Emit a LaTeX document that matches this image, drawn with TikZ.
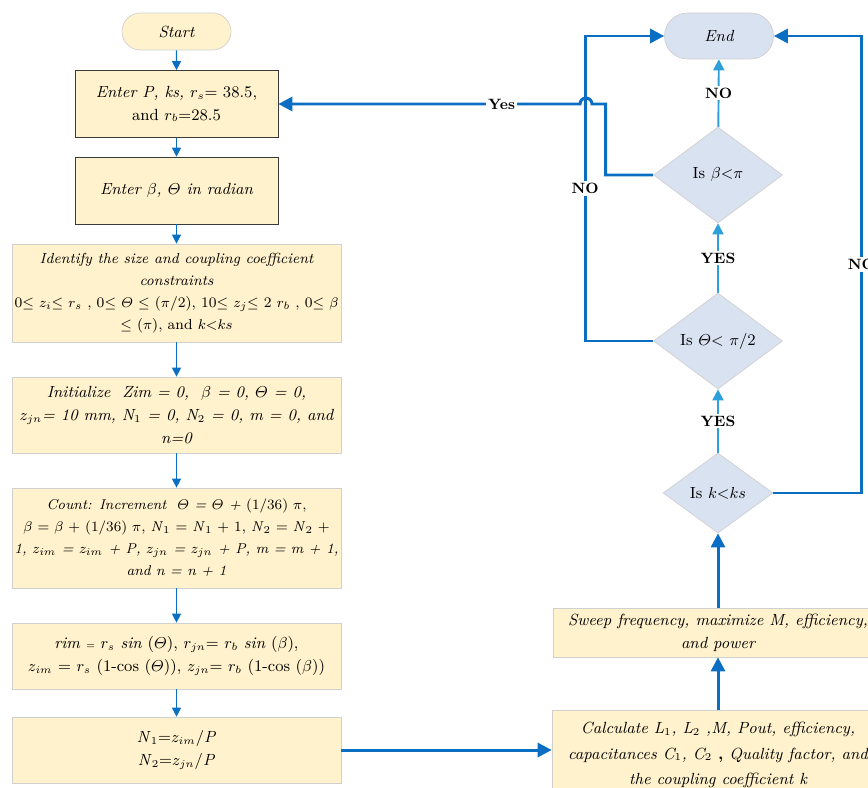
\documentclass[tikz,border=0pt]{standalone}
\usepackage{amsmath}
\usetikzlibrary{shapes.geometric,shapes.misc,arrows.meta}

\definecolor{boxfill}{HTML}{FFF2CC}
\definecolor{boxline}{HTML}{D0D0D0}
\definecolor{darkline}{HTML}{3A3A3A}
\definecolor{decfill}{HTML}{D9E2F1}
\definecolor{flowblue}{HTML}{0A6FC2}
\definecolor{skyblue}{HTML}{2E9FD8}

\tikzset{
  txt/.style={font=\fontsize{9.2}{13}\selectfont, align=center, inner sep=1pt},
  small/.style={font=\fontsize{8.3}{12.5}\selectfont},
  box/.style={txt, rectangle, draw=boxline, fill=boxfill, minimum width=6.58cm},
  inbox/.style={box, draw=darkline, minimum width=4.06cm, minimum height=1.34cm},
  term/.style={txt, rounded rectangle, draw=boxline, minimum width=2.25cm},
  decision/.style={txt, diamond, draw=boxline, fill=decfill, inner sep=0pt, shape aspect=1.34},
  flow/.style={draw=flowblue, line width=0.75pt, -{Triangle[length=0.18cm,width=0.18cm]}},
  bigflow/.style={draw=flowblue, line width=1.7pt, -{Triangle[length=0.28cm,width=0.28cm]}},
  lightflow/.style={draw=skyblue, line width=1.1pt, -{Triangle[length=0.22cm,width=0.22cm]}},
  lbl/.style={font=\fontsize{8.5}{10}\selectfont\bfseries, fill=white, inner sep=1pt}
}

\begin{document}
\begin{tikzpicture}[x=0.02cm, y=-0.02cm]
\useasboundingbox (0,0) rectangle (868,787);

% left column
\node (start) [term, fill=boxfill, minimum height=0.74cm] at (176.5,31.5) {\itshape Start};
\node (enterP) [inbox] at (176.5,104) {\textit{Enter P, ks, }$r_s$= 38.5,\\ and $r_b$=28.5};
\node (enterB) [inbox] at (176.5,190.5) {\itshape Enter $\beta$, $\varTheta$ in radian};
\node (ident) [box, small, minimum height=1.96cm] at (176.5,293)
  {\itshape Identify the size and coupling coefficient\\ \itshape constraints\\
   0$\le$ $z_i$$\le$ $r_s$ , 0$\le$ $\varTheta$ $\le$ ($\pi$/2), 10$\le$ $z_j$$\le$ 2 $r_b$ , 0$\le$ $\beta$\\
   $\le$ ($\pi$), and $k{<}ks$};
\node (init) [box, minimum height=1.52cm] at (176.5,415)
  {\itshape Initialize\ \ Zim = 0,\ \ $\beta$ = 0, $\varTheta$ = 0,\\
   \itshape $z_{jn}$= 10 mm, N$_1$ = 0, N$_2$ = 0, m = 0, and\\ \itshape n=0};
\node (count) [box, small, font=\fontsize{8.1}{12.5}\selectfont, minimum height=2cm] at (176.5,538)
  {\itshape Count: Increment\ \ $\varTheta$ = $\varTheta$ + \upshape(1/36) $\pi$,\\
   $\beta$ = $\beta$ + (1/36) $\pi$, \textit{N}$_1$ = \textit{N}$_1$ + 1, \textit{N}$_2$ = \textit{N}$_2$ +\\
   \itshape 1, $z_{im}$ = $z_{im}$ + P, $z_{jn}$ = $z_{jn}$ + P, m = m + 1,\\ \itshape and n = n + 1};
\node (geom) [box, minimum height=1.32cm] at (176.5,656)
  {\textit{rim} {\tiny =} $r_s$ \textit{sin} ($\varTheta$), $r_{jn}$= $r_b$ \textit{sin} ($\beta$),\\
   $z_{im}$ = $r_s$ (1-cos ($\varTheta$)), $z_{jn}$= $r_b$ (1-cos ($\beta$))};
\node (turns) [box, minimum height=1.32cm] at (176.5,750)
  {\textit{N}$_1$=$z_{im}$/\textit{P}\\ \textit{N}$_2$=$z_{jn}$/\textit{P}};

% right column
\node (calc) [box, minimum width=6.64cm, minimum height=1.8cm, font=\fontsize{9.2}{14.5}\selectfont] at (718,755)
  {\itshape Calculate L$_1$, L$_2$ ,M, Pout, efficiency,\\
   \itshape capacitances C$_1$, C$_2$ {\upshape\bfseries ,} Quality factor, and\\
   \itshape the coupling coefficient k};
\node (sweep) [box, minimum width=6.6cm, minimum height=0.98cm] at (718,632.5)
  {\itshape Sweep frequency, maximize M, efficiency,\\ \itshape and power};
\node (kks) [decision, minimum width=2.2cm, minimum height=1.6cm] at (718,493) {Is $k{<}ks$};
\node (theta) [decision, minimum width=2.58cm, minimum height=1.92cm] at (718,341) {Is $\varTheta$$<$ $\pi$/2};
\node (beta) [decision, minimum width=2.58cm, minimum height=1.92cm] at (718,175) {Is $\beta{<}\pi$};
\node (end) [term, fill=decfill, minimum height=0.92cm] at (719,36) {\itshape End};

% connectors
\draw[flow] (start) -- (enterP);
\draw[flow] (enterP) -- (enterB);
\draw[flow] (enterB) -- (ident);
\draw[flow] (ident) -- (init);
\draw[flow] (init) -- (count);
\draw[flow] (count) -- (geom);
\draw[flow] (geom) -- (turns);
\draw[bigflow] (turns.east) -- (turns.east -| calc.west);
\draw[bigflow] (calc) -- (sweep);
\draw[bigflow] (sweep) -- (kks);
\draw[lightflow] (kks) -- node[lbl] {YES} (theta);
\draw[lightflow] (theta) -- node[lbl] {YES} (beta);
\draw[lightflow] (beta) -- node[lbl] {NO} (end);
\draw[bigflow] (kks.east) -- ++(88,0) |- node[lbl, pos=0.25] {NO} (end.east);
\draw[bigflow] (theta.west) -- ++(-68,0) |- node[lbl, pos=0.25] {NO} (end.west);
\draw[bigflow] (beta.west) -- ++(-47.5,0) |- (592,104)
  arc[start angle=0, end angle=180, radius=0.12cm] -- node[lbl, pos=0.26] {Yes} (enterP.east);
\end{tikzpicture}
\end{document}
